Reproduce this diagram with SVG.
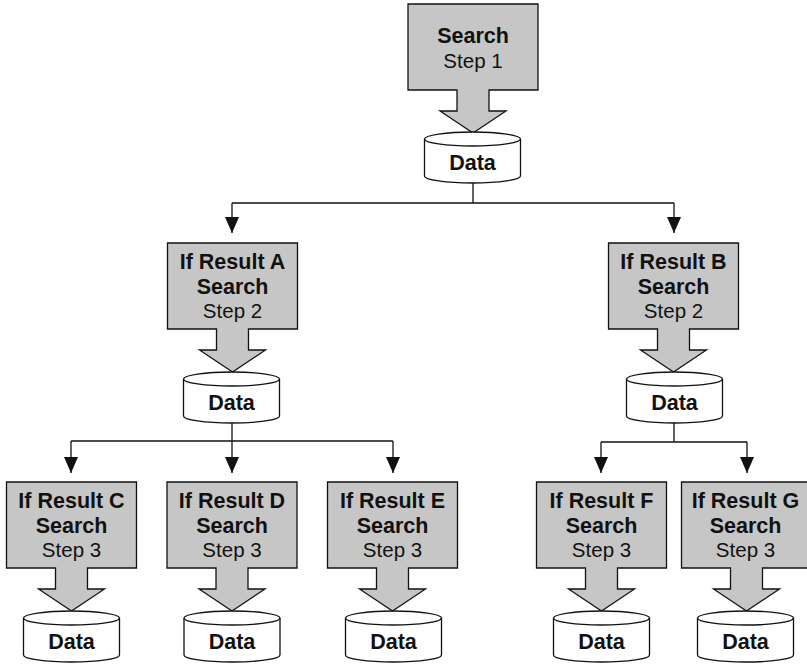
<svg xmlns="http://www.w3.org/2000/svg" width="807" height="665" viewBox="0 0 807 665">
  <style>
    .box { fill: #c6c6c6; stroke: #111111; stroke-width: 1.3; stroke-linejoin: miter; }
    .cyl { fill: #ffffff; stroke: #111111; stroke-width: 1.3; }
    .rim { fill: none; stroke: #111111; stroke-width: 1.3; }
    .wire { fill: none; stroke: #111111; stroke-width: 1.3; }
    text { font-family: "Liberation Sans", Arial, sans-serif; font-size: 20.5px; fill: #111111; text-anchor: middle; }
    .b { font-weight: bold; font-size: 21.5px; }
  </style>
  <defs>
    <!-- search step box with its downward block arrow, origin at top centre -->
    <path id="stepBox" class="box" d="M -65 0 H 65 V 86 H 16 V 107 H 33 L 0 129 L -33 107 H -16 V 86 H -65 Z"/>
    <!-- data store cylinder, origin at top of the lid -->
    <g id="dataCyl">
      <path class="cyl" d="M -48 7 V 44 A 48 7 0 0 0 48 44 V 7 A 48 7 0 0 0 -48 7 Z"/>
      <path class="rim" d="M -48 7 A 48 7 0 0 0 48 7"/>
    </g>
    <marker id="head" markerUnits="userSpaceOnUse" markerWidth="16" markerHeight="14" refX="16" refY="7" orient="auto">
      <path d="M 0 0 L 16 7 L 0 14 Z" fill="#111111"/>
    </marker>
  </defs>

  <!-- connectors -->
  <g id="connectors">
    <path class="wire" d="M 473 183 V 203 M 232 203 H 674"/>
    <path class="wire" marker-end="url(#head)" d="M 232 203 V 233"/>
    <path class="wire" marker-end="url(#head)" d="M 674 203 V 233"/>

    <path class="wire" d="M 232 423 V 441 M 71 441 H 393"/>
    <path class="wire" marker-end="url(#head)" d="M 71 441 V 473"/>
    <path class="wire" marker-end="url(#head)" d="M 232 441 V 473"/>
    <path class="wire" marker-end="url(#head)" d="M 393 441 V 473"/>

    <path class="wire" d="M 674 423 V 442 M 601 442 H 747"/>
    <path class="wire" marker-end="url(#head)" d="M 601 442 V 473"/>
    <path class="wire" marker-end="url(#head)" d="M 747 442 V 473"/>
  </g>

  <!-- step 1 -->
  <g id="search1">
    <use href="#stepBox" x="473" y="4"/>
    <text class="b" x="473" y="43">Search</text>
    <text x="473" y="68">Step 1</text>
  </g>
  <g id="data1">
    <use href="#dataCyl" x="472.5" y="132"/>
    <text class="b" x="472.5" y="170">Data</text>
  </g>

  <!-- step 2 -->
  <g id="searchA">
    <use href="#stepBox" x="232.5" y="243"/>
    <text class="b" x="232.5" y="269">If Result A</text>
    <text class="b" x="232.5" y="294">Search</text>
    <text x="232.5" y="318">Step 2</text>
  </g>
  <g id="dataA">
    <use href="#dataCyl" x="231.5" y="372"/>
    <text class="b" x="231.5" y="410">Data</text>
  </g>

  <g id="searchB">
    <use href="#stepBox" x="673.5" y="243"/>
    <text class="b" x="673.5" y="269">If Result B</text>
    <text class="b" x="673.5" y="294">Search</text>
    <text x="673.5" y="318">Step 2</text>
  </g>
  <g id="dataB">
    <use href="#dataCyl" x="674.5" y="372"/>
    <text class="b" x="674.5" y="410">Data</text>
  </g>

  <!-- step 3 -->
  <g id="searchC">
    <use href="#stepBox" x="71.5" y="482"/>
    <text class="b" x="71.5" y="508">If Result C</text>
    <text class="b" x="71.5" y="533">Search</text>
    <text x="71.5" y="557">Step 3</text>
  </g>
  <g id="dataC">
    <use href="#dataCyl" x="71.5" y="611"/>
    <text class="b" x="71.5" y="649">Data</text>
  </g>

  <g id="searchD">
    <use href="#stepBox" x="232" y="482"/>
    <text class="b" x="232" y="508">If Result D</text>
    <text class="b" x="232" y="533">Search</text>
    <text x="232" y="557">Step 3</text>
  </g>
  <g id="dataD">
    <use href="#dataCyl" x="232" y="611"/>
    <text class="b" x="232" y="649">Data</text>
  </g>

  <g id="searchE">
    <use href="#stepBox" x="392.5" y="482"/>
    <text class="b" x="392.5" y="508">If Result E</text>
    <text class="b" x="392.5" y="533">Search</text>
    <text x="392.5" y="557">Step 3</text>
  </g>
  <g id="dataE">
    <use href="#dataCyl" x="393.5" y="611"/>
    <text class="b" x="393.5" y="649">Data</text>
  </g>

  <g id="searchF">
    <use href="#stepBox" x="601.5" y="482"/>
    <text class="b" x="601.5" y="508">If Result F</text>
    <text class="b" x="601.5" y="533">Search</text>
    <text x="601.5" y="557">Step 3</text>
  </g>
  <g id="dataF">
    <use href="#dataCyl" x="601.5" y="611"/>
    <text class="b" x="601.5" y="649">Data</text>
  </g>

  <g id="searchG">
    <use href="#stepBox" x="746.5" y="482"/>
    <text class="b" x="745.5" y="508">If Result G</text>
    <text class="b" x="745.5" y="533">Search</text>
    <text x="745.5" y="557">Step 3</text>
  </g>
  <g id="dataG">
    <use href="#dataCyl" x="745.5" y="611"/>
    <text class="b" x="745.5" y="649">Data</text>
  </g>
</svg>
